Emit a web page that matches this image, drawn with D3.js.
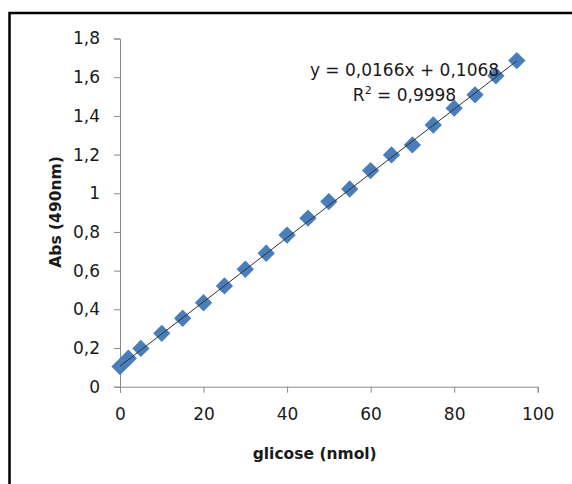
<!DOCTYPE html>
<html>
<head>
<meta charset="utf-8">
<script src="https://cdn.jsdelivr.net/npm/d3@7"></script>
<style>
  body { margin: 0; background: #fff; }
  text { font-family: "DejaVu Sans", sans-serif; fill: #1a1a1a; }
</style>
</head>
<body>
<div id="chart"></div>
<script>
"use strict";
// glucose standard curve
const glucose = [0, 2, 5, 10, 15, 20, 25, 30, 35, 40, 45, 50, 55, 60, 65, 70, 75, 80, 85, 90, 95];
const absorbance = [0.104, 0.147, 0.198, 0.276, 0.354, 0.434, 0.521, 0.607, 0.690, 0.784, 0.871,
    0.957, 1.022, 1.117, 1.198, 1.250, 1.353, 1.440, 1.509, 1.607, 1.686];
const xTicks = [0, 20, 40, 60, 80, 100];
const yTicks = [0, 0.2, 0.4, 0.6, 0.8, 1, 1.2, 1.4, 1.6, 1.8];
const yTickLabels = ["0", "0,2", "0,4", "0,6", "0,8", "1", "1,2", "1,4", "1,6", "1,8"];
const slope = 0.0166;
const intercept = 0.1068;
const equationText = "y = 0,0166x + 0,1068";
const r2Value = " = 0,9998";

const svgWidth = 572;
const svgHeight = 484;
const svg = d3.select("#chart")
    .append("svg")
    .attr("width", svgWidth)
    .attr("height", svgHeight);

// chart frame, runs off the right and bottom edges
svg.append("rect")
    .attr("x", 9.5)
    .attr("y", 13)
    .attr("width", 700)
    .attr("height", 600)
    .attr("fill", "none")
    .attr("stroke", "#000")
    .attr("stroke-width", 2.5);

const xScale = d3.scaleLinear().domain([0, 100]).range([120, 537.7]);
const yScale = d3.scaleLinear().domain([0, 1.8]).range([386.7, 38.5]);

const xAxis = d3.axisBottom(xScale).tickValues(xTicks).tickSize(6).tickPadding(15);
const yAxis = d3.axisLeft(yScale).tickValues(yTicks).tickSize(6).tickPadding(14)
    .tickFormat((d, i) => yTickLabels[i]);

const gx = svg.append("g")
    .attr("transform", `translate(0, ${yScale(0)})`)
    .call(xAxis);
const gy = svg.append("g")
    .attr("transform", `translate(${xScale(0)}, 0)`)
    .call(yAxis);
[gx, gy].forEach(g => {
    g.selectAll("path, line").attr("stroke", "#8a8a8a");
    g.selectAll("text")
        .style("font-family", "'DejaVu Sans', sans-serif")
        .style("font-size", "17px")
        .attr("fill", "#1a1a1a");
});

// markers
svg.append("g")
    .selectAll("path")
    .data(glucose)
    .enter()
    .append("path")
    .attr("d", d3.symbol().type(d3.symbolSquare).size(150))
    .attr("transform", (d, i) => `translate(${xScale(d)}, ${yScale(absorbance[i])}) rotate(45)`)
    .attr("fill", "#4a7ebb");

// linear trendline
const xExtent = d3.extent(glucose);
const line = d3.line()
    .x(d => xScale(d))
    .y(d => yScale(slope * d + intercept));
svg.append("path")
    .datum(xExtent)
    .attr("d", line)
    .attr("fill", "none")
    .attr("stroke", "#333")
    .attr("stroke-width", 1);

// equation label
svg.append("text")
    .attr("x", 404.5)
    .attr("y", 75.5)
    .attr("text-anchor", "middle")
    .style("font-size", "17px")
    .text(equationText);
const r2 = svg.append("text")
    .attr("x", 404.5)
    .attr("y", 100.5)
    .attr("text-anchor", "middle")
    .style("font-size", "17px");
r2.append("tspan").text("R");
r2.append("tspan").attr("dy", -7).style("font-size", "11px").text("2");
r2.append("tspan").attr("dy", 7).text(r2Value);

// axis titles
svg.append("text")
    .attr("x", 314.7)
    .attr("y", 458.5)
    .attr("text-anchor", "middle")
    .style("font-size", "15.5px")
    .style("font-weight", "bold")
    .text("glicose (nmol)");
svg.append("text")
    .attr("transform", "translate(60.5, 212) rotate(-90)")
    .attr("text-anchor", "middle")
    .style("font-size", "15.5px")
    .style("font-weight", "bold")
    .text("Abs (490nm)");
</script>
</body>
</html>
